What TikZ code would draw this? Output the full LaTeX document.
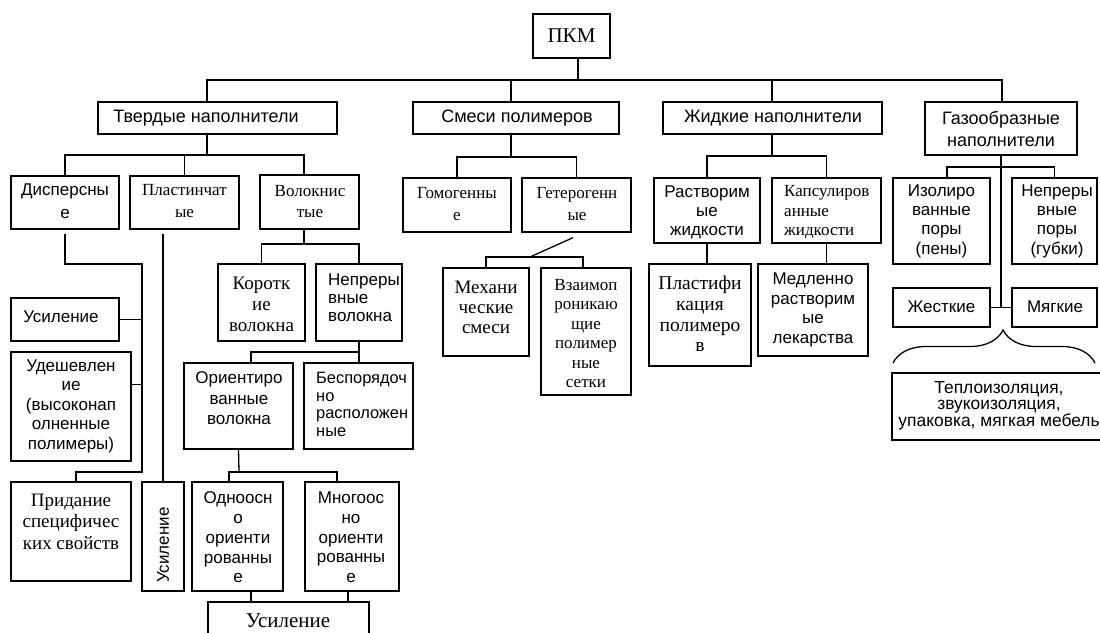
\documentclass[tikz,border=0pt]{standalone}
\usepackage{fontspec}
\setmainfont{Liberation Serif}
\setsansfont{Liberation Sans}
\usetikzlibrary{fit,calc,decorations.pathreplacing}
\tikzset{
  bx/.style={draw, line width=1.3pt, inner sep=0pt},
  ln/.style={line width=1.3pt},
  sf/.style 2 args={font=\sffamily\fontsize{#1}{#2}\selectfont, align=center, inner sep=0pt},
  rm/.style 2 args={font=\rmfamily\fontsize{#1}{#2}\selectfont, align=center, inner sep=0pt},
}
\begin{document}
\begin{tikzpicture}[x=1pt,y=-1pt]
\useasboundingbox (0,0) rectangle (1100,632);
\fill[white] (0,0) rectangle (1100,632);
\clip (0,0) rectangle (1100,632);

% level 0 / 1
\node[bx, fit={(533,14) (610,58)}] (pkm) {};
\node[rm={21}{24}] (pkmt) at (571.5,36) {ПКМ};
\node[bx, fit={(98,102) (337,134)}] (tv) {};
\node[sf={18}{22}] (tvt) at (206,118) {Твердые наполнители};
\node[bx, fit={(413,102) (619,134)}] (sm) {};
\node[sf={18}{22}] (smt) at (517,118) {Смеси полимеров};
\node[bx, fit={(663,102) (882,134)}] (zh) {};
\node[sf={18}{22}] (zht) at (773,118) {Жидкие наполнители};
\node[bx, fit={(925,102) (1077,155)}] (gz) {};
\node[sf={18}{22}] (gzt) at (1001,129) {Газообразные\\наполнители};

% solid fillers
\node[bx, fit={(11,176) (119,229)}] (disp) {};
\node[sf={17}{23}] (dispt) at (65,201.5) {Дисперсны\\е};
\node[bx, fit={(130,176) (239,229)}] (plast) {};
\node[rm={17}{22}] (plastt) at (184.5,201) {Пластинчат\\ые};
\node[bx, fit={(260,175) (359,229)}] (vol) {};
\node[rm={17}{21}] (volt) at (310,201.5) {Волокнис\\тые};

\node[bx, fit={(11,298) (119,341)}] (us1) {};
\node[sf={17}{19.5}] (us1t) at (61,317) {Усиление};
\node[bx, fit={(11,352) (131,461)}] (ud) {};
\node[sf={17}{19.5}] (udt) at (71,406) {Удешевлен\\ие\\(высоконап\\олненные\\полимеры)};
\node[bx, fit={(11,482) (131,581)}] (prid) {};
\node[rm={19}{21.5}] (pridt) at (71,521.5) {Придание\\специфичес\\ких свойств};
\node[bx, fit={(142,482) (184,591)}] (us2) {};
\node[sf={17}{19.5}, rotate=90] (us2t) at (163,545) {Усиление};

\node[bx, fit={(218,264) (305,341)}] (kor) {};
\node[rm={19}{21}] (kort) at (261.5,304) {Коротк\\ие\\волокна};
\node[bx, fit={(316,264) (402,341)}] (nepv) {};
\node[sf={17}{18}, align=left, anchor=west] (nepvt) at (328,298) {Непреры\\вные\\волокна};
\node[bx, fit={(184,363) (293,449)}] (orv) {};
\node[sf={17}{20.5}] (orvt) at (239,398.5) {Ориентиро\\ванные\\волокна};
\node[bx, fit={(304,363) (413,449)}] (besp) {};
\node[sf={16.4}{17.7}, align=left, anchor=west] (bespt) at (316,404.5) {Беспорядоч\\но\\расположен\\ные};
\node[bx, fit={(192,482) (283,591)}] (odn) {};
\node[sf={17}{19.7}] (odnt) at (238,537.5) {Одноосн\\о\\ориенти\\рованны\\е};
\node[bx, fit={(305,482) (399,591)}] (mno) {};
\node[sf={17}{19.7}] (mnot) at (351,537.5) {Многоос\\но\\ориенти\\рованны\\е};
\node[bx, fit={(208,602) (369,650)}] (usb) {};
\node[rm={21}{24}] (usbt) at (288,621) {Усиление};

% polymer blends
\node[bx, fit={(403,178) (511,232)}] (gom) {};
\node[rm={17}{22}] (gomt) at (457,204) {Гомогенны\\е};
\node[bx, fit={(522,178) (631,232)}] (get) {};
\node[rm={17}{22}] (gett) at (577,204) {Гетерогенн\\ые};
\node[bx, fit={(443,268) (529,356)}] (meh) {};
\node[rm={19}{20}] (meht) at (486,307) {Механи\\ческие\\смеси};
\node[bx, fit={(541,268) (631,395)}] (vzm) {};
\node[rm={17}{19.4}] (vzmt) at (586,333.5) {Взаимоп\\роникаю\\щие\\полимер\\ные\\сетки};

% liquid fillers
\node[bx, fit={(654,178) (760,243)}] (rast) {};
\node[sf={17}{19}] (rastt) at (707,212) {Растворим\\ые\\жидкости};
\node[bx, fit={(772,178) (881,243)}] (kaps) {};
\node[rm={17}{19.5}, align=left, anchor=west] (kapst) at (784,212.5) {Капсулиров\\анные\\жидкости};
\node[bx, fit={(649,264) (751,366)}] (plf) {};
\node[rm={19.5}{20.7}] (plft) at (700,314) {Пластифи\\кация\\полимеро\\в};
\node[bx, fit={(758,264) (868,356)}] (med) {};
\node[sf={17}{19.7}] (medt) at (813,310) {Медленно\\растворим\\ые\\лекарства};

% gas fillers
\node[bx, fit={(893,178) (990,264)}] (izo) {};
\node[sf={17}{19.3}] (izot) at (941.5,221) {Изолиро\\ванные\\поры\\(пены)};
\node[bx, fit={(1012,178) (1097,264)}] (nepp) {};
\node[sf={17}{19.3}] (neppt) at (1057,221) {Непреры\\вные\\поры\\(губки)};
\node[bx, fit={(893,288) (990,327)}] (zhe) {};
\node[sf={17}{19.5}] (zhet) at (941.5,307) {Жесткие};
\node[bx, fit={(1012,288) (1097,327)}] (mya) {};
\node[sf={17}{19.5}] (myat) at (1055,307) {Мягкие};
\node[bx, fit={(892,373) (1112,440)}] (tep) {};
\node[sf={17.4}{16}] (tept) at (999,406) {Теплоизоляция,\\звукоизоляция,\\упаковка, мягкая мебель};

% ---- connectors ----
\coordinate (b0) at (578,80);
\draw[ln] ($(pkm.south)+(6.5,0)$) -- (b0);
\draw[ln] ($(tv.north)+(-10.5,0)$) |- (b0) -| ($(gz.north)+(1,0)$);
\coordinate (smd) at ($(sm.north)+(-5,0)$);
\draw[ln] (smd) -- (smd |- b0);
\coordinate (zhd) at ($(zh.north)+(-0.5,0)$);
\draw[ln] (zhd) -- (zhd |- b0);

% solid
\coordinate (b1) at (207,155);
\draw[ln] (tv.south -| b1) -- (b1);
\draw[ln] (disp.north) |- (b1) -| ($(vol.north)+(-5.5,0)$);
\draw[ln] (plast.north) -- (plast.north |- b1);
\coordinate (d1) at (142,264);
\coordinate (d2) at (142,472);
\draw[ln, shorten <=4pt] (disp.south) |- (d1) -- (d2) -| ($(prid.north)+(5,0)$);
\draw[ln] (us1.east) -- (us1.east -| d1);
\coordinate (ue) at ($(ud.east)+(0,-22)$);
\draw[ln] (ue) -- (ue -| d1);
\draw[ln, shorten >=4pt] (us2.north) -- (us2.north |- plast.south);

\coordinate (b2) at (304,244);
\draw[ln] ($(vol.south)+(-5.5,0)$) -- (b2);
\draw[ln] (kor.north) |- (b2) -| (nepv.north);
\coordinate (b3) at (359,352);
\draw[ln] (nepv.south) -- (nepv.south |- besp.north);
\draw[ln] ($(orv.north)+(12.5,0)$) |- (b3);
\coordinate (b4) at (239,472);
\draw[ln] (orv.south) -- (b4);
\draw[ln] ($(odn.north)+(-8.5,0)$) |- (b4) -| ($(mno.north)+(-15,0)$);
\coordinate (o1) at ($(odn.south)+(13.5,0)$);
\draw[ln] (o1) -- (o1 |- usb.north);
\coordinate (o2) at ($(mno.south)+(-4,0)$);
\draw[ln] (o2) -- (o2 |- usb.north);

% blends
\coordinate (b5) at (511,157);
\draw[ln] ($(sm.south)+(-5,0)$) -- (b5);
\draw[ln] (gom.north) |- (b5) -| (get.north);
\coordinate (b6) at (530,257);
\draw[ln] ($(get.south)+(-3.5,5)$) -- (b6);
\draw[ln] (meh.north) |- (b6) -| ($(vzm.north)+(-3,0)$);

% liquids
\coordinate (b7) at (772,156);
\draw[ln] ($(zh.south)+(-0.5,0)$) -- (b7);
\draw[ln] (rast.north) |- (b7) -| (kaps.north);
\draw[ln] (rast.south) -- (rast.south |- plf.north);
\draw[ln] (kaps.south) -- (kaps.south |- med.north);

% gases
\coordinate (b8) at (1001,167);
\draw[ln] (gz.south) -- (gz.south |- zhe.east);
\draw[ln] ($(izo.north)+(5.5,0)$) |- (b8) -| (nepp.north);
\draw[ln] (zhe.east) -- (mya.west);
\coordinate (brL) at (893,363);
\coordinate (brR) at (1095,363);
\draw[ln, decorate, decoration={brace, amplitude=33pt, aspect=0.545}] (brL) -- (brR);
\end{tikzpicture}
\end{document}
